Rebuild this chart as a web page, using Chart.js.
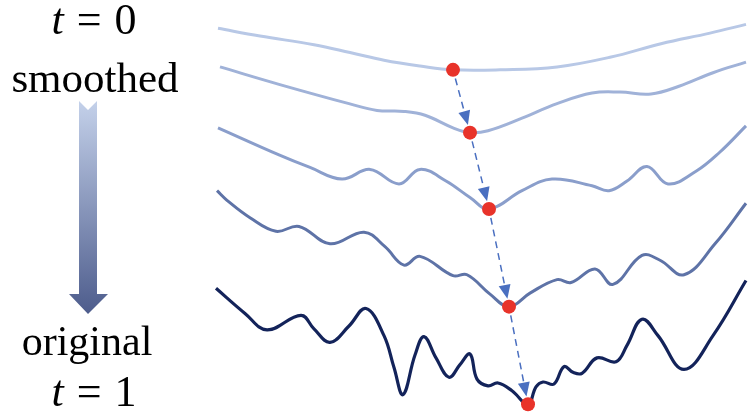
<!DOCTYPE html>
<html>
<head>
<meta charset="utf-8">
<script src="https://cdn.jsdelivr.net/npm/chart.js@4"></script>
<style>
  body { margin: 0; background: #fff; }
  #wrap { position: relative; width: 755px; height: 419px; overflow: hidden; }
  #chart { position: absolute; left: 0; top: 0; }
  .lbl { position: absolute; font-family: "Liberation Serif", "Times New Roman", serif; color: #000; line-height: 1; white-space: nowrap; transform: translateX(-50%); }
  .lbl i { margin-right: 13px; }
  .lbl .eq { margin-right: 13px; }
</style>
</head>
<body>
<div id="wrap">
  <canvas id="chart" width="755" height="419"></canvas>
  <div class="lbl" style="left:94px; top:-2px; font-size:44px;"><i>t</i><span class="eq">=</span>0</div>
  <div class="lbl" style="left:95px; top:56px; font-size:43px;">smoothed</div>
  <div class="lbl" style="left:87px; top:320px; font-size:42px;">original</div>
  <div class="lbl" style="left:94px; top:370px; font-size:44px;"><i>t</i><span class="eq">=</span>1</div>
</div>
<script>
// curves from smoothed (t = 0) to original (t = 1); x = position, y = level
const x1 = [2, 44, 98, 134, 168, 204, 237, 284, 341, 394, 445, 494, 530];
const y1 = [397, 389, 380, 372, 364, 358, 354, 354, 357, 367, 381, 392, 401];

const x2 = [4, 63, 133, 161, 188, 209, 237, 254, 272, 306, 341, 376, 404, 435, 463, 497, 530];
const y2 = [357, 339, 319, 312, 311, 307, 294, 289, 291, 304, 319, 330, 331, 329, 337, 351, 362];

const x3 = [2, 63, 94, 126, 154, 183, 204, 230, 254, 273, 306, 336, 376, 393, 411, 431, 452, 480, 504, 530];
const y3 = [294, 266, 253, 241, 251, 236, 251, 239, 222, 210, 229, 241, 234, 229, 239, 254, 236, 249, 269, 296];

const x4 = [1, 11, 34, 60, 83, 114, 148, 169, 188, 204, 237, 251, 274, 293, 314, 341, 355, 379, 397, 426, 444, 468, 499, 530];
const y4 = [229, 219, 201, 187, 192, 174, 186, 171, 152, 161, 141, 142, 122, 109, 123, 137, 134, 148, 132, 162, 157, 142, 174, 216];

const x5 = [0, 29, 51, 85, 98, 114, 133, 150, 168, 178, 187, 199, 208, 220, 233, 244, 254, 261, 272, 282, 296, 312,
            320, 327, 338, 348, 357, 366, 381, 400, 411, 426, 442, 468, 497, 530];
const y5 = [128, 102, 85, 100, 86, 72, 89, 107, 79, 46, 18, 59, 78, 56, 36, 49, 60, 34, 27, 30, 22, 8,
            26, 31, 29, 47, 41, 40, 56, 52, 69, 96, 79, 44, 79, 136];

// the tracked minimum on each curve
const minX = [237, 254, 273, 293, 312];
const minY = [354, 289, 210, 109, 8];

const colors = ['#b8c8e6', '#a0b2d8', '#8a9ecb', '#5e73a7', '#13235a'];

function pts(xs, ys) {
    return xs.map((x, i) => ({ x: x, y: ys[i] }));
}

const curves = [[x1, y1], [x2, y2], [x3, y3], [x4, y4], [x5, y5]];

const datasets = curves.map((c, i) => ({
    type: 'line',
    data: pts(c[0], c[1]),
    borderColor: colors[i],
    borderWidth: i == 4 ? 3.2 : 3,
    pointRadius: 0,
    tension: 0.4,
    fill: false,
    clip: false,
    order: 2
}));

datasets.push({
    type: 'scatter',
    data: pts(minX, minY),
    backgroundColor: '#e8332a',
    borderWidth: 0,
    pointRadius: 7,
    clip: false,
    order: 0
});

// dashed arrows between consecutive minima + gradient arrow at left
const arrowsPlugin = {
    id: 'arrows',
    beforeDatasetsDraw(chart) {
        const ctx = chart.ctx;
        // left gradient arrow
        ctx.save();
        const g = ctx.createLinearGradient(0, 101, 0, 314);
        g.addColorStop(0, '#c4d1ea');
        g.addColorStop(1, '#4d5c8c');
        ctx.fillStyle = g;
        ctx.beginPath();
        ctx.moveTo(79, 101);
        ctx.lineTo(88, 110);
        ctx.lineTo(97, 101);
        ctx.lineTo(97, 294);
        ctx.lineTo(108, 294);
        ctx.lineTo(88, 314);
        ctx.lineTo(69, 294);
        ctx.lineTo(79, 294);
        ctx.closePath();
        ctx.fill();
        ctx.restore();
    },
    afterDatasetsDraw(chart) {
        const ctx = chart.ctx;
        const xs = chart.scales.x, ys = chart.scales.y;
        ctx.save();
        ctx.strokeStyle = '#4a6fc0';
        ctx.fillStyle = '#4a6fc0';
        ctx.lineWidth = 1.5;
        for (let i = 0; i < minX.length - 1; i++) {
            const ax = xs.getPixelForValue(minX[i]), ay = ys.getPixelForValue(minY[i]);
            const bx = xs.getPixelForValue(minX[i + 1]), by = ys.getPixelForValue(minY[i + 1]);
            const dx = bx - ax, dy = by - ay;
            const len = Math.sqrt(dx * dx + dy * dy);
            const ux = dx / len, uy = dy / len;
            const sx = ax + ux * 9, sy = ay + uy * 9;
            const tx = bx - ux * 8, ty = by - uy * 8;
            const hl = 14, hw = 6;
            const hx = tx - ux * hl, hy = ty - uy * hl;
            ctx.setLineDash([7, 5]);
            ctx.beginPath();
            ctx.moveTo(sx, sy);
            ctx.lineTo(hx, hy);
            ctx.stroke();
            ctx.setLineDash([]);
            ctx.beginPath();
            ctx.moveTo(tx, ty);
            ctx.lineTo(hx - uy * hw, hy + ux * hw);
            ctx.lineTo(hx + uy * hw, hy - ux * hw);
            ctx.closePath();
            ctx.fill();
        }
        ctx.restore();
    }
};

const myChart = new Chart(document.getElementById('chart').getContext('2d'), {
    data: { datasets: datasets },
    options: {
        responsive: false,
        animation: false,
        layout: { padding: { left: 216, right: 9, top: 0, bottom: 0 } },
        plugins: { legend: { display: false }, tooltip: { enabled: false } },
        scales: {
            x: { type: 'linear', min: 0, max: 530, display: false },
            y: { type: 'linear', min: 0, max: 419, display: false }
        }
    },
    plugins: [arrowsPlugin]
});
</script>
</body>
</html>
